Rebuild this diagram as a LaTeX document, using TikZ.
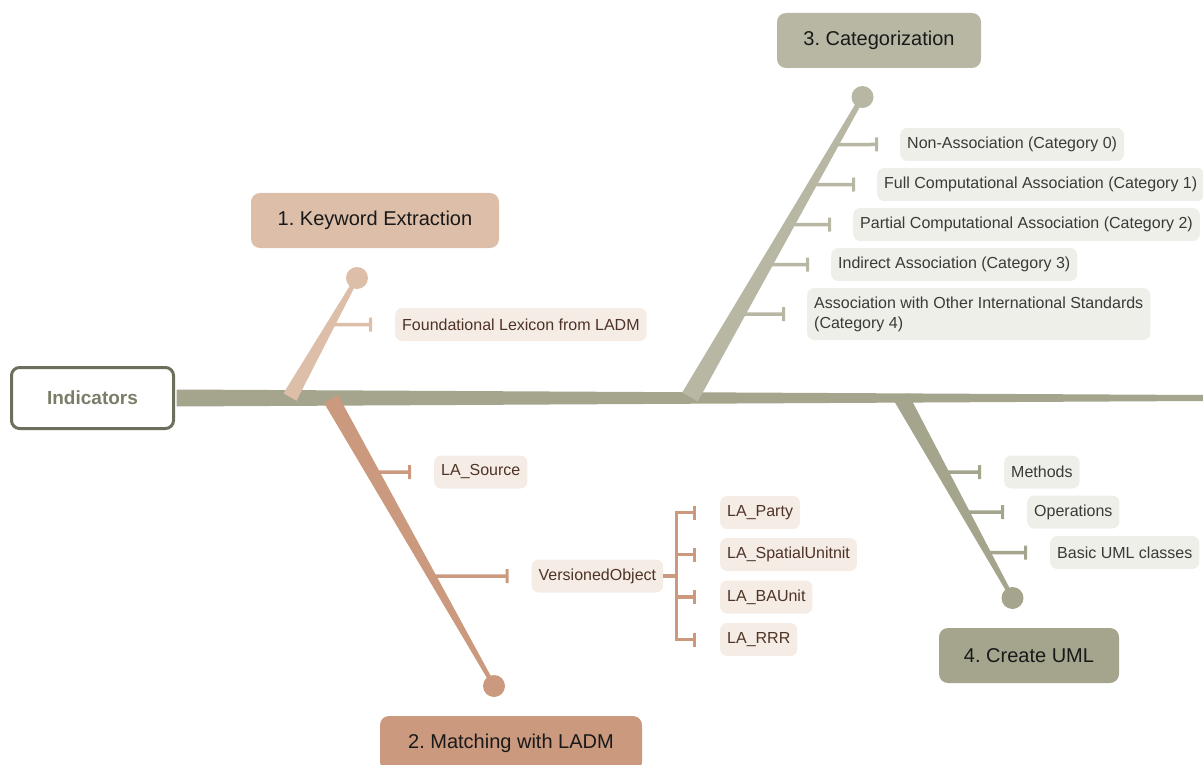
\documentclass[tikz,border=0pt]{standalone}
\usepackage{fontspec}
\setmainfont{Liberation Sans}
\usetikzlibrary{calc,arrows.meta}
\definecolor{kwcol}{HTML}{DDBEA9}
\definecolor{mtcol}{HTML}{CB997E}
\definecolor{catcol}{HTML}{B7B7A4}
\definecolor{umlcol}{HTML}{A5A58D}
\definecolor{indcol}{HTML}{6B705C}
\definecolor{indtext}{HTML}{7A7D68}
\definecolor{brownfill}{HTML}{F5ECE6}
\definecolor{browntext}{HTML}{4E3326}
\definecolor{greyfill}{HTML}{EFEFEA}
\definecolor{greytext}{HTML}{3A3A36}
\frenchspacing

\begin{document}
\begin{tikzpicture}[x=1pt,y=-1pt,
    lab/.style={rounded corners=7pt, minimum height=33pt, inner xsep=7pt, anchor=west, font=\fontsize{16}{20}\selectfont},
    brownlab/.style={lab, fill=brownfill, text=browntext},
    greylab/.style={lab, fill=greyfill, text=greytext},
    head/.style={rounded corners=9pt, minimum height=55pt, text=black!90, font=\fontsize{20}{24}\selectfont},
    dot/.style={circle, inner sep=0pt, minimum size=22pt},
    rib/.style={line width=3.5pt, -{Bar[width=14pt, line width=3pt]}}]
  \useasboundingbox (0,0) rectangle (1203,765);
  \node[draw=indcol, line width=3pt, fill=white, rounded corners=8pt, minimum width=162pt, minimum height=61pt,
    text=indtext, font=\fontsize{19}{22}\selectfont\bfseries] (ind) at (92.5,398) {Indicators};
  \coordinate (tail) at (1203,398);
  \fill[umlcol] ([xshift=1.5pt,yshift=8.5pt]ind.east) -- ([yshift=3pt]tail) -- ([yshift=-3pt]tail)
    -- ([xshift=1.5pt,yshift=-8.5pt]ind.east) -- cycle;

  \node[head, fill=kwcol, minimum width=248pt] (kwhead) at (375,220.5) {1. Keyword Extraction};
  \node[head, fill=mtcol, minimum width=262pt] (mthead) at (511,743.5) {2. Matching with LADM};
  \node[head, fill=catcol, minimum width=204pt] (cathead) at (879,40.5) {3. Categorization};
  \node[head, fill=umlcol, minimum width=180pt] (umlhead) at (1029,655.5) {4. Create UML};

  \node[brownlab] (kw) at (395,324.5) {Foundational Lexicon from LADM};
  \node[brownlab] (src) at (434,472) {LA\_Source};
  \node[brownlab] (vo) at (531.5,576) {VersionedObject};
  \node[brownlab] (party) at (720,512.5) {LA\_Party};
  \node[brownlab] (spat) at (720,554.5) {LA\_SpatialUnitnit};
  \node[brownlab] (baunit) at (720,597) {LA\_BAUnit};
  \node[brownlab] (rrr) at (720,639.5) {LA\_RRR};
  \node[greylab] (cat0) at (900,144.5) {Non-Association (Category 0)};
  \node[greylab] (cat1) at (877,184.5) {Full Computational Association (Category 1)};
  \node[greylab] (cat2) at (853,224.5) {Partial Computational Association (Category 2)};
  \node[greylab] (cat3) at (831,264.5) {Indirect Association (Category 3)};
  \node[greylab, align=left, minimum height=52pt] (cat4) at (807,314) {Association with Other International Standards\\(Category 4)};
  \node[greylab] (meth) at (1004,472) {Methods};
  \node[greylab] (ops) at (1027,512) {Operations};
  \node[greylab] (basic) at (1050,552.5) {Basic UML classes};

  \coordinate (kwbase) at (290,397);
  \coordinate (mtbase) at (331,399);
  \coordinate (catbase) at (690,397);
  \coordinate (umlbase) at (901,397);
  \node[dot, fill=kwcol] (kwdot) at (357,278) {};
  \node[dot, fill=mtcol] (mtdot) at (494,686) {};
  \node[dot, fill=catcol] (catdot) at (862.5,97) {};
  \node[dot, fill=umlcol] (umldot) at (1012.5,598) {};

  % ribs
  \draw[rib, kwcol] (intersection of kwbase--kwdot and kw.west--kw.east) -- ([xshift=-23pt]kw.west);
  \foreach \n in {src,vo}
    \draw[rib, mtcol] (intersection of mtbase--mtdot and \n.west--\n.east) -- ([xshift=-23pt]\n.west);
  \foreach \n in {cat0,cat1,cat2,cat3,cat4}
    \draw[rib, catcol] (intersection of catbase--catdot and \n.west--\n.east) -- ([xshift=-22pt]\n.west);
  \foreach \n in {meth,ops,basic}
    \draw[rib, umlcol] (intersection of umlbase--umldot and \n.west--\n.east) -- ([xshift=-23pt]\n.west);
  \coordinate (fork) at ([xshift=13pt]vo.east);
  \draw[mtcol, line width=3.5pt] (vo.east) -- (fork);
  \draw[mtcol, line width=3.5pt, line cap=rect] (fork |- party) -- (fork |- rrr);
  \foreach \n in {party,spat,baunit,rrr}
    \draw[rib, mtcol] (fork |- \n) -- ([xshift=-24pt]\n.west);

  % bones
  \fill[kwcol] ($(kwbase)!7.5pt!90:(kwdot)$) -- ($(kwdot)!2pt!-90:(kwbase)$) -- ($(kwdot)!2pt!90:(kwbase)$) -- ($(kwbase)!7.5pt!-90:(kwdot)$) -- cycle;
  \fill[mtcol] ($(mtbase)!8pt!90:(mtdot)$) -- ($(mtdot)!2pt!-90:(mtbase)$) -- ($(mtdot)!2pt!90:(mtbase)$) -- ($(mtbase)!8pt!-90:(mtdot)$) -- cycle;
  \fill[catcol] ($(catbase)!9pt!90:(catdot)$) -- ($(catdot)!2.5pt!-90:(catbase)$) -- ($(catdot)!2.5pt!90:(catbase)$) -- ($(catbase)!9pt!-90:(catdot)$) -- cycle;
  \fill[umlcol] ($(umlbase)!8pt!90:(umldot)$) -- ($(umldot)!2pt!-90:(umlbase)$) -- ($(umldot)!2pt!90:(umlbase)$) -- ($(umlbase)!8pt!-90:(umldot)$) -- cycle;
\end{tikzpicture}
\end{document}
